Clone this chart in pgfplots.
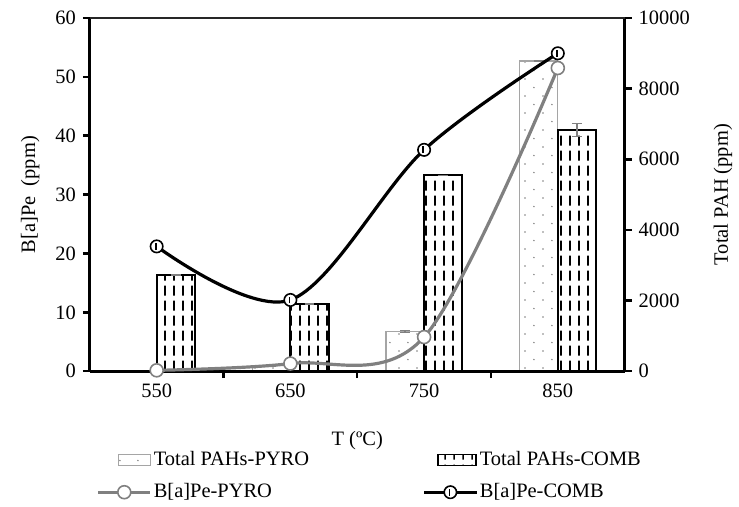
\documentclass[border=0pt]{standalone}
\usepackage{fontspec}
\setmainfont{Liberation Serif}
\usepackage{pgfplots}
\pgfplotsset{compat=1.18}
\usetikzlibrary{patterns}

% bar fills
\pgfdeclarepatternformonly{vdash}{\pgfqpoint{0pt}{0pt}}{\pgfqpoint{8.5pt}{15pt}}{\pgfqpoint{8.5pt}{15pt}}{%
  \pgfsetlinewidth{1.6pt}%
  \pgfpathmoveto{\pgfqpoint{4.25pt}{2.5pt}}\pgfpathlineto{\pgfqpoint{4.25pt}{12.5pt}}\pgfusepath{stroke}}
\pgfdeclarepatternformonly{sdots}{\pgfqpoint{0pt}{0pt}}{\pgfqpoint{18pt}{17pt}}{\pgfqpoint{18pt}{17pt}}{%
  \pgfpathcircle{\pgfqpoint{4pt}{4pt}}{0.8pt}\pgfpathcircle{\pgfqpoint{13pt}{12.5pt}}{0.8pt}\pgfusepath{fill}}
% circle with a bar inside
\pgfdeclareplotmark{cbar}{%
  \pgfpathcircle{\pgfpointorigin}{\pgfplotmarksize}\pgfusepathqfillstroke
  \pgfpathmoveto{\pgfpoint{-0.15\pgfplotmarksize}{-0.55\pgfplotmarksize}}%
  \pgfpathlineto{\pgfpoint{-0.15\pgfplotmarksize}{0.55\pgfplotmarksize}}\pgfusepathqstroke}

\definecolor{pyro}{RGB}{128,128,128}
\definecolor{pyrobar}{RGB}{165,165,165}

\pgfplotsset{
  common/.style={
    scale only axis, width=536pt, height=354pt,
    xmin=-0.5, xmax=3.5,
    tick align=outside, major tick length=7pt,
    every tick/.style={black, line width=2.5pt},
    axis line style={line width=2.8pt},
    /pgf/number format/assume math mode=true,
    /pgf/number format/1000 sep={},
    scaled y ticks=false,
    clip mode=individual,
  },
  lineleg/.style={legend image code/.code={%
    \draw[##1, mark repeat=2, mark phase=2] plot coordinates {(0pt,0pt) (26pt,0pt) (52pt,0pt)};}},
}

\begin{document}
{\fontsize{20.5}{24}\selectfont
\begin{tikzpicture}
% bars, right axis
\begin{axis}[common,
  axis y line*=right, axis x line=none,
  ymin=0, ymax=10000, ytick={0,2000,...,10000},
  ylabel={Total PAH (ppm)}, ylabel shift=10pt,
  ybar=0pt, bar width=38.3pt,
  error bars/error bar style={line width=1.3pt, pyro},
  error bars/error mark options={rotate=90, mark size=5pt, line width=1.3pt, pyro},
]
\addplot[draw=pyrobar, line width=1.3pt, pattern=sdots, pattern color=pyro,
  error bars/.cd, y dir=both, y explicit]
  coordinates {(0,10) +- (0,0) (1,170) +- (0,20) (2,1130) +- (0,30) (3,8780) +- (0,0)};
\addplot[draw=black, line width=1.8pt, pattern=vdash, pattern color=black,
  error bars/.cd, y dir=both, y explicit]
  coordinates {(0,2720) +- (0,0) (1,1900) +- (0,0) (2,5550) +- (0,0) (3,6830) +- (0,180)};
\end{axis}
% lines, left axis
\begin{axis}[common, name=ax,
  axis y line*=left, axis x line*=bottom,
  ymin=0, ymax=60, ytick={0,10,...,60},
  ylabel={B[a]Pe~~(ppm)}, ylabel shift=2pt,
  xtick={0.5,1.5,2.5}, xticklabels={},
  extra x ticks={0,1,2,3}, extra x tick labels={550,650,750,850},
  extra x tick style={major tick length=0pt, xticklabel style={yshift=-6pt}},
  xlabel={T (ºC)}, xlabel style={yshift=-12pt},
  legend columns=2,
  legend style={at={(0.007,-0.215)}, anchor=north west, draw=none, fill=none,
    /tikz/every even column/.append style={column sep=112pt},
    /tikz/row sep=11pt},
  legend cell align=left,
]
\addlegendimage{legend image code/.code={%
  \draw[draw=pyrobar, line width=1.3pt, pattern=sdots, pattern color=pyro] (20pt,-5.5pt) rectangle (52pt,5.5pt);}}
\addlegendentry{Total PAHs-PYRO}
\addlegendimage{legend image code/.code={%
  \draw[draw=black, line width=1.8pt, pattern=vdash, pattern color=black] (14pt,-5.5pt) rectangle (52pt,5.5pt);}}
\addlegendentry{Total PAHs-COMB}
\addplot[pyro, line width=3.2pt, smooth, tension=0.55, lineleg,
  mark=*, mark size=6.5pt, mark options={fill=white, draw=pyro, line width=1.6pt}]
  coordinates {(0,0.15) (1,1.3) (2,5.8) (3,51.5)};
\addlegendentry{B[a]Pe-PYRO}
\addplot[black, line width=3.2pt, smooth, tension=0.55, lineleg,
  mark=cbar, mark size=6.2pt, mark options={fill=white, draw=black, line width=1.6pt}]
  coordinates {(0,21.2) (1,12.1) (2,37.6) (3,54.0)};
\addlegendentry{B[a]Pe-COMB}
\draw[line width=1.3pt, black!85] (rel axis cs:0,1) -- (rel axis cs:1,1);
\end{axis}
\path (ax.south west) ++(-90pt,-136pt) rectangle ++(739pt,508pt);
\end{tikzpicture}}
\end{document}
